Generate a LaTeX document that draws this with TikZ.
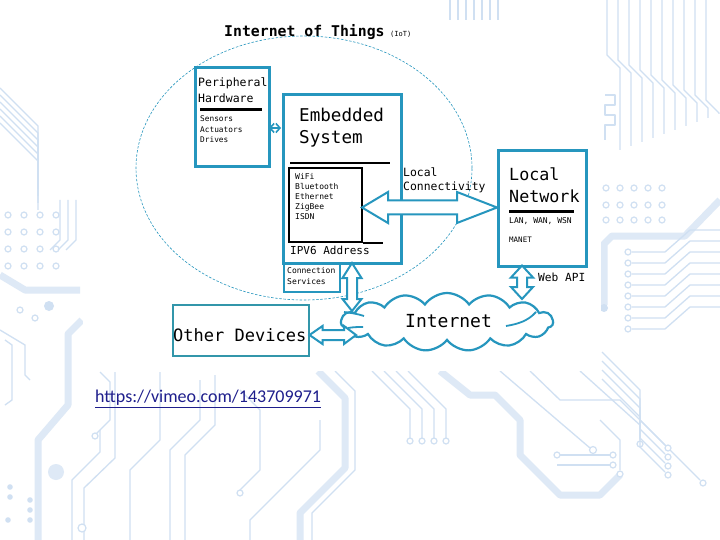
\documentclass[tikz,border=0pt]{standalone}
\usepackage{fontspec}
\setmainfont{Liberation Sans}
\newfontfamily\mono{DejaVu Sans Mono}
\newfontfamily\calib{Carlito}
\usetikzlibrary{shapes.geometric,shapes.symbols,calc,arrows.meta}
\definecolor{iotc}{RGB}{38,150,190}
\definecolor{odc}{RGB}{50,150,170}
\definecolor{bgc}{RGB}{208,224,242}
\definecolor{bgl}{RGB}{222,233,246}
\definecolor{urlc}{RGB}{30,30,140}
\newcommand\myfs[1]{\fontsize{#1}{#1}\selectfont}
% horizontal fat double arrow: left tip, right tip, shaft half, head half, left head len, right head len
\newcommand\hfat[6]{\draw[fat] let \p1=(#1), \p2=(#2) in
 (\x1,\y1) -- (\x1+#5pt,\y1+#4pt) -- (\x1+#5pt,\y1+#3pt) -- (\x2-#6pt,\y1+#3pt) -- (\x2-#6pt,\y1+#4pt) -- (\x2,\y1)
 -- (\x2-#6pt,\y1-#4pt) -- (\x2-#6pt,\y1-#3pt) -- (\x1+#5pt,\y1-#3pt) -- (\x1+#5pt,\y1-#4pt) -- cycle;}
% vertical fat double arrow: top tip, bottom tip, shaft half, head half, top head len, bottom head len
\newcommand\vfat[6]{\draw[fat] let \p1=(#1), \p2=(#2) in
 (\x1,\y1) -- (\x1+#4pt,\y1-#5pt) -- (\x1+#3pt,\y1-#5pt) -- (\x1+#3pt,\y2+#6pt) -- (\x1+#4pt,\y2+#6pt) -- (\x1,\y2)
 -- (\x1-#4pt,\y2+#6pt) -- (\x1-#3pt,\y2+#6pt) -- (\x1-#3pt,\y1-#5pt) -- (\x1-#4pt,\y1-#5pt) -- cycle;}
\begin{document}
\begin{tikzpicture}[x=1pt,y=-1pt,
  trace/.style={draw=bgc, line width=1.3pt, line join=round},
  band/.style={draw=bgl, line width=7pt, line join=round},
  pad/.style={draw=bgc, line width=1.2pt, fill=white},
  box/.style={draw=iotc, line width=2.6pt, anchor=north west, inner sep=0pt},
  blk/.style={draw=black, line width=2.2pt},
  lbl/.style={inner sep=0pt, anchor=west, text=black},
  fat/.style={draw=iotc, line width=2pt, fill=white, line join=miter}]
\useasboundingbox (0,0) rectangle (720,540);
\fill[white] (0,0) rectangle (720,540);
% ---------------- background circuit decoration ----------------
\begin{scope}
% left side
\foreach \i in {0,...,5}{\draw[trace] (0,88+7*\i) -- (38,126+7*\i) -- (38,175+7*\i);}
\foreach \x in {8,24,40,56}{\foreach \y in {215,232,249,266}{\draw[pad] (\x,\y) circle (3);}}
\draw[band] (0,275) -- (25,290) -- (80,290);
\foreach \i in {0,1,2}{\draw[trace] (60+8*\i,200) -- (60+8*\i,240) -- (50+8*\i,250);}
\draw[pad] (20,310) circle (3); \draw[pad] (35,318) circle (3);
\fill[bgc] (49,306) circle (5);
\draw[trace] (5,340) -- (12,345) -- (12,400) -- (5,405);
\draw[trace] (0,330) -- (25,345) -- (25,375) -- (30,380);
\draw[band] (82,320) -- (68,334) -- (68,405) -- (38,440) -- (38,540);
\fill[bgl] (56,472) circle (8);
\foreach \p in {(10,487),(10,497),(30,500),(30,510),(30,520),(8,520)}{\fill[bgc] \p circle (2.8);}
\draw[trace] (100,372) -- (110,382) -- (110,420) -- (95,435);
\draw[pad] (95,436) circle (3);
\draw[trace] (72,540) -- (72,480) -- (100,452) -- (100,430);
\draw[trace] (84,540) -- (84,488) -- (115,458) -- (115,372);
\draw[pad] (82,528) circle (4);
% bottom
\draw[band] (318,371) -- (345,398) -- (345,468) -- (300,513) -- (300,540);
\draw[trace] (335,371) -- (355,391) -- (355,470) -- (312,513) -- (312,540);
\foreach \i in {0,1,2,3}{\draw[trace] (372+12*\i,371) -- (410+12*\i,409) -- (410+12*\i,438); \draw[pad] (410+12*\i,441) circle (3);}
\draw[band] (440,371) -- (470,395) -- (495,395) -- (520,420) -- (520,455) -- (560,495) -- (600,495) -- (620,475);
\draw[trace] (500,371) -- (590,448); \draw[pad] (593,450) circle (3.5);
\draw[trace] (560,455) -- (610,455); \draw[pad] (557,455) circle (3); \draw[pad] (613,455) circle (3);
\draw[trace] (557,465) -- (610,465); \draw[pad] (613,465) circle (3);
\draw[trace] (530,371) -- (560,400) -- (620,400) -- (700,480); \draw[pad] (703,483) circle (3);
\draw[trace] (580,371) -- (640,425) -- (640,440); \draw[pad] (640,444) circle (3);
\draw[trace] (200,380) -- (200,420) -- (170,450) -- (170,540);
\draw[trace] (215,375) -- (215,425) -- (185,455) -- (185,540);
\draw[trace] (240,390) -- (260,410) -- (260,470) -- (240,490); \draw[pad] (240,493) circle (3);
\draw[trace] (130,540) -- (130,470) -- (160,440) -- (160,372);
\draw[trace] (250,540) -- (250,520) -- (320,450) -- (320,420);
% right side
\foreach \i in {0,...,9}{\draw[trace] (607+11*\i,0) -- (607+11*\i,55+5*\i) -- (620+11*\i,68+5*\i) -- (620+11*\i,150-4*\i);}
\draw[trace] (605,95) -- (615,95) -- (615,105) -- (605,105) -- (605,115) -- (615,115) -- (615,125) -- (605,125) -- (605,140);
\foreach \x in {606,620,634,648,662}{\foreach \y in {188,205,220}{\draw[pad] (\x,\y) circle (3);}}
\draw[band] (720,200) -- (685,236) -- (612,236) -- (604,244) -- (604,305);
\fill[bgc] (604,308) circle (4);
\foreach \i in {0,...,7}{\draw[trace] (632,252+11*\i) -- (665,252+11*\i) -- (690,230+11*\i) -- (720,230+11*\i); \draw[pad] (628,252+11*\i) circle (3);}
\foreach \i in {0,1,2,3}{\draw[trace] (602,352+9*\i) -- (640,390+9*\i) -- (640,420+9*\i) -- (665,445+9*\i); \draw[pad] (668,448+9*\i) circle (3);}
\draw[trace] (600,420) -- (620,440) -- (620,470);
\draw[pad] (620,474) circle (3);
\foreach \i in {0,...,6}{\draw[trace] (450+8*\i,0) -- (450+8*\i,20);}
\end{scope}
% white picture area
\fill[white] (83,20) rectangle (601,371);
% ---------------- diagram ----------------
\node[ellipse, draw=iotc, line width=0.6pt, dash pattern=on 2.5pt off 1.6pt, minimum width=336pt, minimum height=264pt, inner sep=0pt] (iotarea) at (304,168) {};
\node[lbl, font=\mono\bfseries\myfs{14.8}] (title) at (224,32) {Internet of Things};
\node[lbl, font=\mono\myfs{7}] (iotabbr) at (390,34) {(IoT)};
% peripheral hardware
\node[box, fill=white, minimum width=74pt, minimum height=99pt] (ph) at (194,66) {};
\node[lbl, font=\mono\myfs{11.5}] (ph1) at (198,83) {Peripheral};
\node[lbl, font=\mono\myfs{11.5}] (ph2) at (198,98) {Hardware};
\draw[blk] (200,109.5) -- (262,109.5);
\node[lbl, font=\mono\myfs{7.8}] (ph3) at (200,119) {Sensors};
\node[lbl, font=\mono\myfs{7.8}] (ph4) at (200,129.5) {Actuators};
\node[lbl, font=\mono\myfs{7.8}] (ph5) at (200,140) {Drives};
% embedded system
\node[box, fill=white, minimum width=118pt, minimum height=169pt] (emb) at (282,93) {};
\node[lbl, font=\mono\myfs{17.6}] (emb1) at (299,115) {Embedded};
\node[lbl, font=\mono\myfs{17.6}] (emb2) at (299,139) {System};
\draw[blk, line width=2.6pt] (290,163) -- (390,163);
\node[draw=black, line width=2.2pt, anchor=north west, inner sep=0pt, minimum width=73pt, minimum height=74pt] (inner) at (288,167) {};
\draw[blk] (inner.south east) -- ++(20,0);
\node[lbl, font=\mono\myfs{8}] (c1) at (295,176) {WiFi};
\node[lbl, font=\mono\myfs{8}] (c2) at (295,186.5) {Bluetooth};
\node[lbl, font=\mono\myfs{8}] (c3) at (295,197) {Ethernet};
\node[lbl, font=\mono\myfs{8}] (c4) at (295,207) {ZigBee};
\node[lbl, font=\mono\myfs{8}] (c5) at (295,217) {ISDN};
\node[lbl, font=\mono\myfs{11}] (ipv6) at (290,250) {IPV6 Address};
% connection services
\node[box, fill=white, line width=2.4pt, minimum width=56pt, minimum height=28pt] (cs) at (283,263) {};
\node[lbl, font=\mono\myfs{8}] (cs1) at (287,271) {Connection};
\node[lbl, font=\mono\myfs{8}] (cs2) at (287,282) {Services};
% local network
\node[box, fill=white, minimum width=88pt, minimum height=116pt] (ln) at (497,149) {};
\node[lbl, font=\mono\myfs{16.7}] (ln1) at (509,174) {Local};
\node[lbl, font=\mono\myfs{16.7}] (ln2) at (509,196) {Network};
\draw[blk] (509,211.5) -- (574,211.5);
\node[lbl, font=\mono\myfs{8}] (ln3) at (509,221) {LAN, WAN, WSN};
\node[lbl, font=\mono\myfs{7.5}] (ln4) at (509,240) {MANET};
\node[lbl, font=\mono\myfs{11.2}] (webapi) at (538,277) {Web API};
\node[lbl, font=\mono\myfs{11.4}] (lc1t) at (403,172) {Local};
\node[lbl, font=\mono\myfs{11.4}] (lc2t) at (403,187) {Connectivity};
% other devices
\node[draw=odc, line width=2.4pt, anchor=north west, inner sep=0pt, minimum width=136pt, minimum height=51pt] (od) at (172,304) {};
\node[lbl, font=\mono\myfs{17}] (odt) at (173,335) {Other Devices};
% internet cloud
\node[cloud, draw=iotc, line width=2.2pt, fill=white, cloud puffs=15, cloud puff arc=110, aspect=3.7, minimum width=212pt, minimum height=58pt, inner sep=0pt] (net) at (447,322) {};
\draw[iotc, line width=1.8pt] (506,326) .. controls (518,324) and (528,321) .. (536,312);
\draw[iotc, line width=1.8pt] (344,312) .. controls (352,313) and (358,314) .. (364,316);
\draw[iotc, line width=1.8pt] (348,328) .. controls (354,327) and (358,327) .. (363,327);
\node[lbl, font=\mono\myfs{18}] (nett) at (405,321) {Internet};
% connectors
\coordinate (pa1) at (269,128);
\coordinate (pa2) at (281,128);
\draw[iotc, line width=1.6pt, <->, >={Straight Barb[length=4pt,width=9pt]}] (pa1) -- (pa2);
\coordinate (lcA) at (362,207.5);
\coordinate (lcB) at (497,207.5);
\hfat{lcA}{lcB}{7}{15.5}{26}{40}
\coordinate (vaA) at (352,263);
\coordinate (vaB) at (352,311);
\vfat{vaA}{vaB}{5}{9.5}{15}{12}
\coordinate (waA) at (522,265.5);
\coordinate (waB) at (522,299);
\vfat{waA}{waB}{5}{11}{12}{12}
\coordinate (oaA) at (309.5,335);
\coordinate (oaB) at (356,335);
\hfat{oaA}{oaB}{5}{9}{13}{12}
% url
\node[lbl, font=\calib\myfs{18}, text=urlc] (url) at (95,399) {\underline{https://vimeo.com/143709971}};
\end{tikzpicture}
\end{document}
